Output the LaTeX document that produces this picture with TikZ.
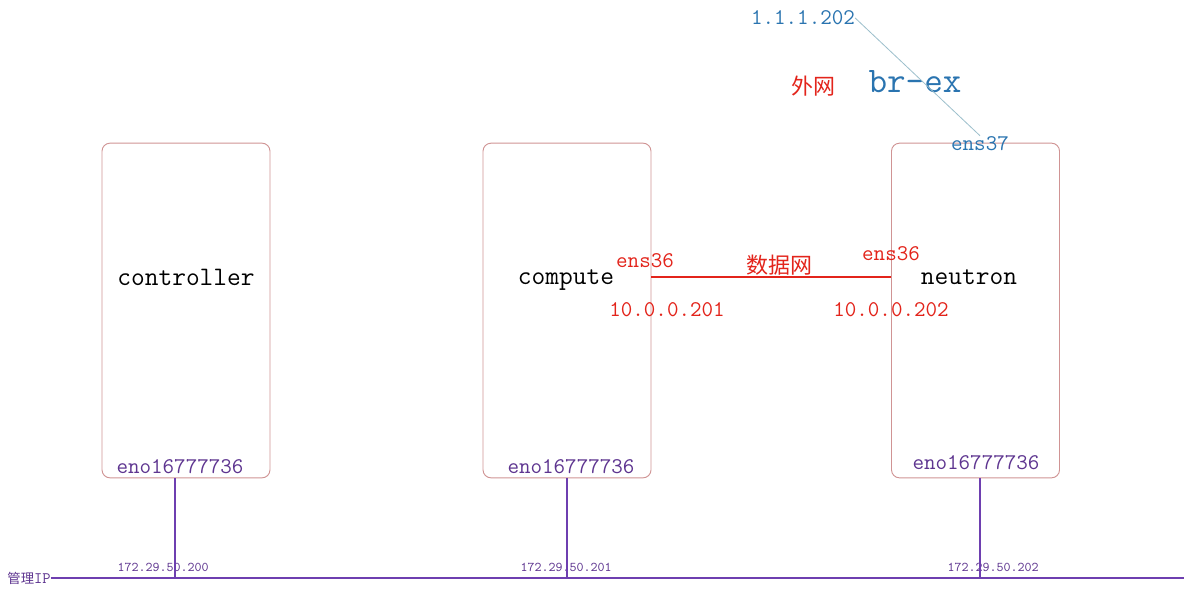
\documentclass[tikz,border=0pt]{standalone}
\usepackage{fontspec}
\newfontfamily\cjk{Noto Sans CJK SC}
\usepackage{xcolor}
\definecolor{hostBorder}{HTML}{D09494}
\definecolor{dataRed}{HTML}{E3241B}
\definecolor{extBlue}{HTML}{2A74B0}
\definecolor{extLine}{HTML}{9CBFCC}
\definecolor{mgmtPurple}{HTML}{6E3FB0}
\definecolor{mgmtText}{HTML}{5E3590}
\usetikzlibrary{positioning}
\tikzset{
    host/.style={
        draw=hostBorder,
        line width=0.7pt,
        rectangle,
        rounded corners=6pt,
        minimum width=126pt,
        minimum height=251pt,
        inner sep=0pt
    },
    hostname/.style={
        font=\ttfamily\fontsize{20}{22}\selectfont,
        text depth=0pt,
        inner sep=0pt
    },
    port/.style={
        font=\ttfamily\fontsize{16.8}{19}\selectfont,
        text depth=0pt,
        inner sep=0pt
    },
    mgmtip/.style={
        font=\ttfamily\fontsize{10}{11}\selectfont,
        text=mgmtText,
        inner sep=0pt
    },
    datalink/.style={
        line width=1.5pt,
        color=dataRed
    },
    mgmtlink/.style={
        line width=1.5pt,
        color=mgmtPurple
    },
    extlink/.style={
        line width=0.6pt,
        color=extLine
    }
}

\begin{document}
\begin{tikzpicture}[x=0.75pt,y=-0.75pt]
    \useasboundingbox[fill=white] (0,0) rectangle (1184,593);

    % Hosts
    \node[host] (controller) at (186,310.5) {};
    \node[host] (compute) at (567,310.5) {};
    \node[host] (neutron) at (975.5,310.5) {};

    \node[hostname] (controllerName) at (186,277) {controller};
    \node[hostname] (computeName) at (566,277) {compute};
    \node[hostname] (neutronName) at (969,277) {neutron};

    % Management interfaces
    \node[port, text=mgmtText] (controllerEno) at (180,466) {eno16777736};
    \node[port, text=mgmtText] (computeEno) at (571,466) {eno16777736};
    \node[port, text=mgmtText] (neutronEno) at (976,462) {eno16777736};

    % Data network
    \node[port, text=dataRed] (computeEns) at (645,261) {ens36};
    \node[port, text=dataRed] (neutronEns) at (891,254) {ens36};
    \node[port, text=dataRed, font=\cjk\fontsize{16.5}{18}\selectfont] (dataNet) at (779,264) {数据网};
    \node[port, text=dataRed] (computeIp) at (667,310) {10.0.0.201};
    \node[port, text=dataRed] (neutronIp) at (891,310) {10.0.0.202};
    \draw[datalink] (compute.east |- computeName) -- (neutron.west |- neutronName);

    % External network
    \node[port, text=extBlue] (extIp) at (803,18) {1.1.1.202};
    \node[port, text=dataRed, font=\cjk\fontsize{16.5}{18}\selectfont] (extNet) at (813,85) {外网};
    \node[port, text=extBlue, font=\ttfamily\fontsize{27}{30}\selectfont] (brex) at (915,81) {br-ex};
    \node[port, text=extBlue] (neutronExt) at (980,143) {ens37};
    \draw[extlink] (extIp.east) -- (neutronExt.north);

    % Management network
    \node[mgmtip, font=\fontsize{10}{11}\selectfont] (mgmt) at (29,578) {{\cjk 管理}{\ttfamily\fontsize{12}{13}\selectfont IP}};
    \coordinate (busEnd) at (1184,578);
    \draw[mgmtlink] (mgmt.east) -- (busEnd);
    \node[mgmtip] (controllerMgmtIp) at (163,567) {172.29.50.200};
    \node[mgmtip] (computeMgmtIp) at (566,567) {172.29.50.201};
    \node[mgmtip] (neutronMgmtIp) at (993,567) {172.29.50.202};
    \foreach \host/\x in {controller/175, compute/567, neutron/980} {
        \coordinate (\host Bus) at (\x,578);
        \draw[mgmtlink] (\host.south -| \host Bus) -- (\host Bus);
    }
\end{tikzpicture}
\end{document}
